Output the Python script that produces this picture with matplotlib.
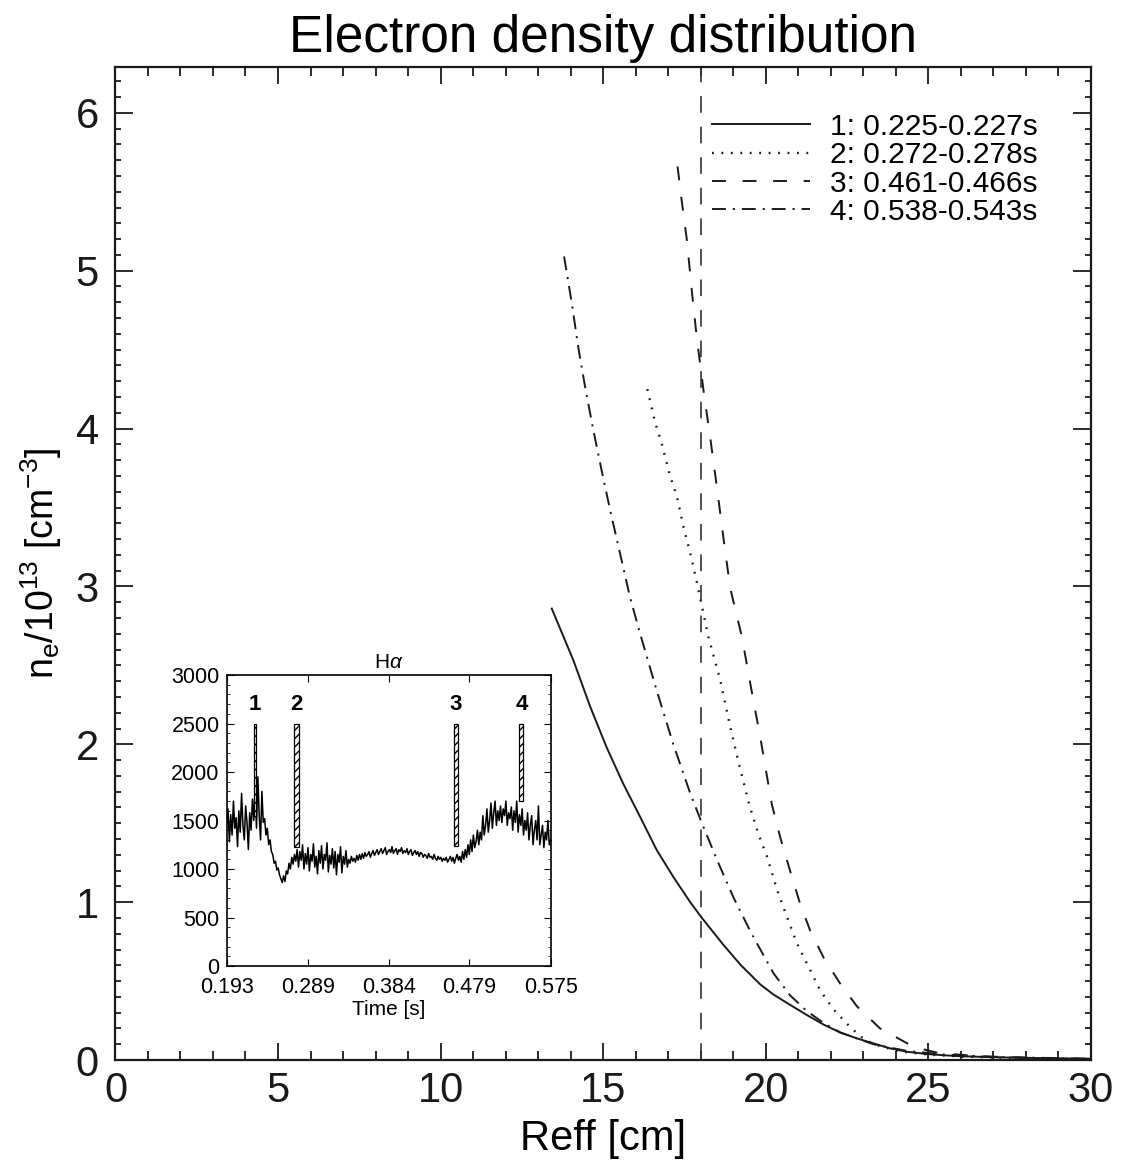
import numpy as np
import matplotlib
matplotlib.use("Agg")
import matplotlib.pyplot as plt
from matplotlib.ticker import MultipleLocator, FixedLocator

plt.rcParams['font.family'] = ['Liberation Sans', 'DejaVu Sans']
plt.rcParams['mathtext.fontset'] = 'custom'
plt.rcParams['mathtext.rm'] = 'Liberation Sans'
plt.rcParams['mathtext.it'] = 'Liberation Sans:italic'
plt.rcParams['lines.scale_dashes'] = False

# ---- main profiles ----
r1 = [13.42, 14.09, 14.6, 15.11, 15.62, 16.14, 16.65, 17.16, 17.68, 18.04, 18.7, 19.22, 19.83, 20.24,
      20.75, 21.27, 21.78, 22.29, 22.81, 23.32, 23.83, 24.34, 24.96, 25.88, 27.2, 28.5, 30.0]
n1 = [2.86, 2.53, 2.24, 1.98, 1.75, 1.54, 1.33, 1.16, 1.00, 0.90, 0.73, 0.605, 0.48, 0.415,
      0.35, 0.285, 0.225, 0.175, 0.137, 0.105, 0.074, 0.053, 0.038, 0.025, 0.017, 0.012, 0.008]

r2 = [16.36, 16.6, 16.81, 17.06, 17.27, 17.47, 17.68, 17.88, 18.24, 18.6, 18.91, 19.22, 19.52, 19.78,
      20.04, 20.35, 20.65, 20.96, 21.37, 21.68, 22.09, 22.5, 22.91, 23.32, 24.1, 25.0, 26.0, 27.5, 30.0]
n2 = [4.25, 4.04, 3.90, 3.70, 3.57, 3.38, 3.21, 3.03, 2.68, 2.41, 2.11, 1.84, 1.60, 1.43,
      1.29, 1.08, 0.91, 0.74, 0.57, 0.44, 0.32, 0.23, 0.15, 0.10, 0.055, 0.035, 0.022, 0.014, 0.006]

r3 = [17.29, 17.42, 17.58, 17.73, 17.88, 18.09, 18.29, 18.5, 18.7, 18.91, 19.27, 19.62, 19.83, 20.19,
      20.45, 20.75, 21.06, 21.37, 21.78, 22.29, 22.81, 23.52, 24.55, 25.3, 26.5, 28.0, 30.0]
n3 = [5.66, 5.44, 5.19, 4.87, 4.58, 4.24, 3.95, 3.63, 3.31, 2.99, 2.68, 2.28, 2.05, 1.62,
      1.41, 1.20, 0.99, 0.82, 0.65, 0.485, 0.34, 0.20, 0.084, 0.045, 0.025, 0.014, 0.007]

r4 = [13.8, 14.04, 14.24, 14.45, 14.7, 14.96, 15.22, 15.52, 15.83, 16.14, 16.65, 17.16, 17.68, 18.04,
      18.5, 19.01, 19.52, 19.73, 20.24, 20.75, 21.27, 21.78, 22.29, 23.32, 24.34, 25.5, 27.0, 30.0]
n4 = [5.09, 4.79, 4.51, 4.26, 3.99, 3.73, 3.48, 3.21, 2.93, 2.70, 2.34, 2.0, 1.69, 1.50,
      1.27, 1.03, 0.82, 0.74, 0.55, 0.41, 0.31, 0.235, 0.175, 0.10, 0.058, 0.035, 0.02, 0.008]

labels = ['1: 0.225-0.227s', '2: 0.272-0.278s', '3: 0.461-0.466s', '4: 0.538-0.543s']
r_mark = 18.0

# ---- H-alpha inset signal ----
t_start, t_end = 0.193, 0.575
halpha = [
    1450, 1620, 1280, 1560, 1350, 1700, 1420, 1530, 1230, 1600, 1380, 1780, 1450, 1300, 1650, 1480, 1200, 1580, 1400, 1720,
    1500, 1850, 1420, 1950, 1550, 1300, 1800, 1480, 1520, 1350, 1420, 1250, 1300, 1180, 1150, 1060, 1080, 990, 1010, 940,
    900, 860, 930, 870, 980, 950, 1060, 1000, 1120, 1050, 1150, 1080, 1200, 1020, 1180, 1090, 1250, 1000, 1160, 1050,
    1220, 980, 1150, 1080, 1260, 1020, 1130, 950, 1190, 1060, 1240, 1000, 1150, 1090, 1270, 970, 1140, 1050, 1210, 1010,
    1180, 940, 1150, 1070, 1230, 960, 1130, 1050, 1190, 1020, 1100, 1060, 1130, 1080, 1110, 1070, 1140, 1090, 1150, 1100,
    1160, 1110, 1170, 1130, 1150, 1180, 1120, 1160, 1190, 1140, 1170, 1200, 1150, 1180, 1210, 1160, 1190, 1220, 1150, 1180,
    1200, 1170, 1230, 1160, 1190, 1210, 1150, 1200, 1180, 1220, 1160, 1190, 1170, 1210, 1150, 1180, 1200, 1140, 1170, 1190,
    1150, 1180, 1130, 1170, 1160, 1120, 1150, 1140, 1110, 1160, 1120, 1130, 1100, 1150, 1110, 1090, 1130, 1100, 1120, 1080,
    1110, 1090, 1120, 1070, 1100, 1130, 1080, 1120, 1060, 1110, 1150, 1090, 1130, 1070, 1180, 1100, 1200, 1120, 1250, 1150,
    1300, 1180, 1350, 1220, 1280, 1400, 1250, 1380, 1300, 1550, 1350, 1450, 1620, 1380, 1500, 1680, 1420, 1580, 1700, 1450,
    1600, 1500, 1650, 1480, 1620, 1550, 1700, 1450, 1580, 1520, 1640, 1400, 1600, 1480, 1700, 1380, 1560, 1450, 1620, 1350,
    1500, 1400, 1580, 1300, 1450, 1550, 1250, 1400, 1500, 1300, 1650, 1250, 1350, 1450, 1220, 1380, 1300, 1500, 1250, 1300,
]
win_start = [0.225, 0.272, 0.461, 0.538]
win_end = [0.227, 0.278, 0.466, 0.543]
win_low = [1550, 1230, 1240, 1700]
win_top = 2500
win_names = ['1', '2', '3', '4']
inset_ticks = [0.193, 0.289, 0.384, 0.479, 0.575]

ink = '#1a1a1a'

fig = plt.figure(figsize=(11.21, 11.64), dpi=100)
ax = fig.add_axes([0.103, 0.0893, 0.870, 0.8531])

ax.plot(r1, n1, color=ink, lw=1.4, ls='-', label=labels[0])
ax.plot(r2, n2, color=ink, lw=1.7, ls=(0, (1.3, 5.5)), label=labels[1])
ax.plot(r3, n3, color=ink, lw=1.4, ls=(0, (10, 12)), label=labels[2])
ax.plot(r4, n4, color=ink, lw=1.4, ls=(0, (10, 5, 1.5, 5)), label=labels[3])
ax.axvline(r_mark, color='#333333', lw=1.2, ls=(0, (12, 10)))

ax.set_xlim(0, 30)
ax.set_ylim(0, 6.29)
ax.xaxis.set_major_locator(MultipleLocator(5))
ax.xaxis.set_minor_locator(MultipleLocator(1))
ax.yaxis.set_major_locator(MultipleLocator(1))
ax.yaxis.set_minor_locator(MultipleLocator(0.1))
ax.tick_params(axis='both', which='both', direction='in', top=True, right=True, width=1.3, colors=ink)
ax.tick_params(axis='x', which='major', length=12, pad=8, labelsize=30)
ax.tick_params(axis='x', which='minor', length=6.5)
ax.tick_params(axis='y', which='major', length=13, pad=12, labelsize=30)
ax.tick_params(axis='y', which='minor', length=4)
for s in ax.spines.values():
    s.set_linewidth(1.6)
    s.set_color(ink)

ax.set_xlabel('Reff [cm]', fontsize=30, labelpad=6)
ax.set_ylabel(r'$\mathregular{n_e/10^{13}\ [cm^{-3}]}$', fontsize=27, labelpad=8)
ax.set_title('Electron density distribution', fontsize=37, pad=11)

ax.legend(loc='upper left', bbox_to_anchor=(0.635, 0.903), bbox_transform=fig.transFigure,
          frameon=False, fontsize=21.5, handlelength=3.3, handletextpad=0.65,
          labelspacing=0.01, borderpad=0, borderaxespad=0)

# ---- inset ----
ins = fig.add_axes([0.2022, 0.1701, 0.2890, 0.2500])
t = np.linspace(t_start, t_end, len(halpha))
ins.plot(t, halpha, color='black', lw=1.1)
for a, b, lo, nm in zip(win_start, win_end, win_low, win_names):
    ins.bar((a + b) / 2, win_top - lo, width=b - a, bottom=lo, facecolor='white',
            edgecolor='black', hatch='////', lw=0.9, zorder=3)
    ins.text((a + b) / 2, 2700, nm, ha='center', va='center', fontsize=16, fontweight='bold')
ins.set_xlim(t_start, t_end)
ins.set_ylim(0, 3000)
ins.xaxis.set_major_locator(FixedLocator(inset_ticks))
ins.set_xticklabels(['%.3f' % v for v in inset_ticks])
ins.yaxis.set_major_locator(MultipleLocator(500))
ins.yaxis.set_minor_locator(MultipleLocator(100))
ins.tick_params(axis='both', which='both', direction='in', top=True, right=True, labelsize=15.5)
ins.tick_params(axis='x', which='major', length=5, pad=8)
ins.tick_params(axis='y', which='major', length=5, pad=5)
ins.tick_params(axis='y', which='minor', length=2.5)
for s in ins.spines.values():
    s.set_linewidth(1.2)
ins.set_title(r'H$\alpha$', fontsize=15, pad=5)
ins.set_xlabel('Time [s]', fontsize=15, labelpad=1)

fig.savefig('out.png', dpi=100)
